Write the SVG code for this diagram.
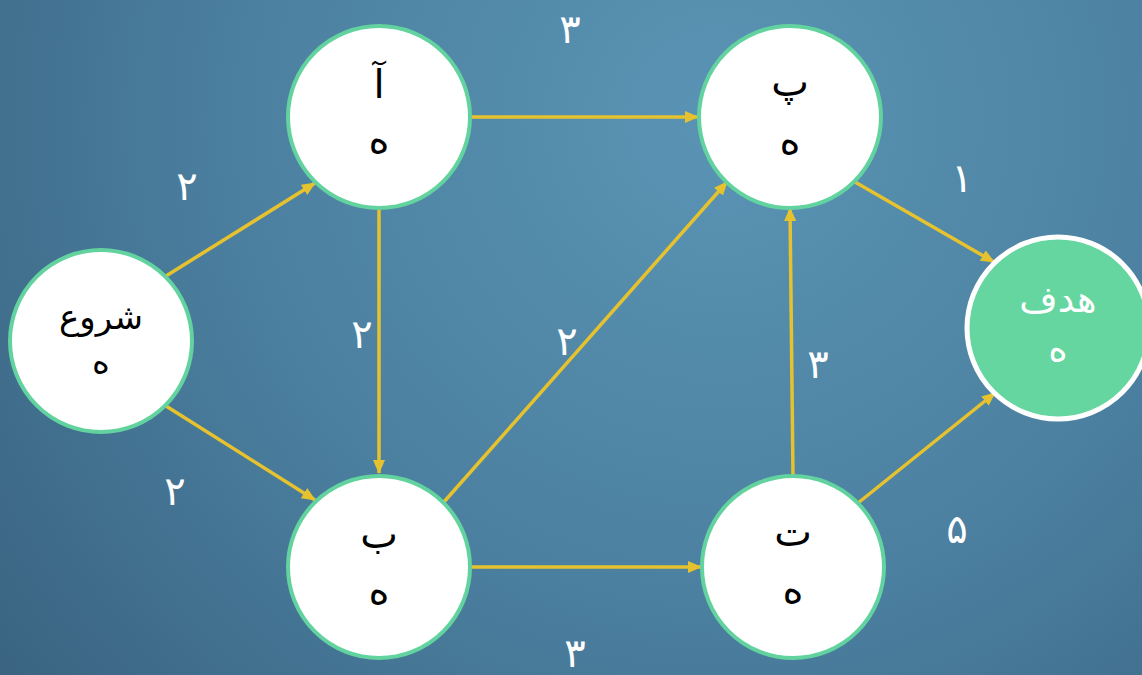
<svg xmlns="http://www.w3.org/2000/svg" width="1142" height="675" viewBox="0 0 1142 675">
<defs>
<radialGradient id="bg" cx="720" cy="120" r="900" gradientUnits="userSpaceOnUse">
<stop offset="0" stop-color="#5a94b4"/>
<stop offset="0.55" stop-color="#4b7f9f"/>
<stop offset="1" stop-color="#3a6482"/>
</radialGradient>
<marker id="ah" markerWidth="14" markerHeight="12" refX="13" refY="6" orient="auto" markerUnits="userSpaceOnUse" viewBox="0 0 14 12">
<path d="M0,0 L14,6 L0,12 Z" fill="#e6c22e"/>
</marker>
<style>
.node{fill:#ffffff;stroke:#62d39f;stroke-width:4}
.goal{fill:#66d6a1;stroke:#ffffff;stroke-width:5}
.t{font-family:"DejaVu Sans",sans-serif;font-size:40px;fill:#000;text-anchor:middle}
.s{font-size:34px}
.tw{font-family:"DejaVu Sans",sans-serif;font-size:37px;fill:#fff;text-anchor:middle}
.w{font-family:"DejaVu Sans",sans-serif;font-size:40px;fill:#fff;text-anchor:middle}
.e{stroke:#e6c22e;stroke-width:3.5;fill:none;marker-end:url(#ah)}
</style>
</defs>
<rect width="1142" height="675" fill="url(#bg)"/>
<g id="connectors">
<line class="e" x1="166" y1="276" x2="315" y2="183"/>
<line class="e" x1="166" y1="406" x2="315" y2="500"/>
<line class="e" x1="472" y1="117" x2="698" y2="117"/>
<line class="e" x1="379" y1="210" x2="379" y2="473"/>
<line class="e" x1="443" y1="503" x2="727" y2="182"/>
<line class="e" x1="472" y1="567" x2="701" y2="567"/>
<line class="e" x1="793" y1="476" x2="790" y2="208"/>
<line class="e" x1="855" y1="182" x2="994" y2="262"/>
<line class="e" x1="858" y1="503" x2="995" y2="393"/>
</g>
<g id="labels">
<text class="w" x="570" y="43">۳</text>
<text class="w" x="187" y="200">۲</text>
<text class="w" x="175" y="505">۲</text>
<text class="w" x="362" y="348">۲</text>
<text class="w" x="567" y="355">۲</text>
<text class="w" x="962" y="192">۱</text>
<text class="w" x="818" y="378">۳</text>
<text class="w" x="957" y="543">۵</text>
<text class="w" x="575" y="667">۳</text>
</g>
<g id="start">
<circle class="node" cx="101" cy="341" r="91"/>
<text class="t s" x="101" y="329">شروع</text>
<text class="t s" x="101" y="373">ه</text>
</g>
<g id="alef">
<circle class="node" cx="379" cy="117" r="91"/>
<text class="t" x="379" y="98">آ</text>
<text class="t" x="379" y="153">ه</text>
</g>
<g id="pe">
<circle class="node" cx="790" cy="117" r="91"/>
<text class="t" x="790" y="96">پ</text>
<text class="t" x="790" y="154">ه</text>
</g>
<g id="be">
<circle class="node" cx="379" cy="567" r="91"/>
<text class="t" x="379" y="548">ب</text>
<text class="t" x="379" y="604">ه</text>
</g>
<g id="te">
<circle class="node" cx="793" cy="567" r="91"/>
<text class="t" x="793" y="546">ت</text>
<text class="t" x="793" y="603">ه</text>
</g>
<g id="goal">
<circle class="goal" cx="1058" cy="328" r="91"/>
<text class="tw" x="1058" y="312">هدف</text>
<text class="tw" x="1058" y="361">ه</text>
</g>
</svg>
